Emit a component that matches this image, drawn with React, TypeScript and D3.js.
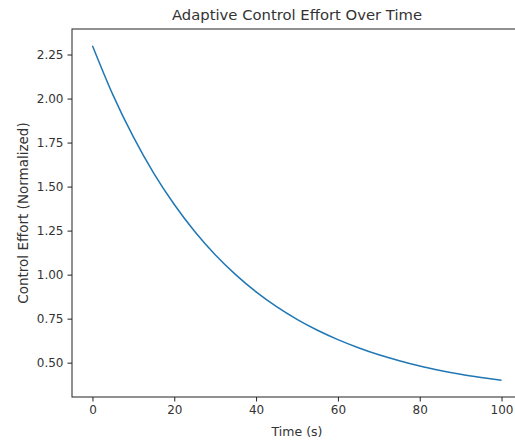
import React, { useEffect, useRef } from 'react';
import * as d3 from 'd3';

// control effort readings, sampled every 5 s
const times = [0, 5, 10, 15, 20, 25, 30, 35, 40, 45, 50, 55, 60, 65, 70, 75, 80, 85, 90, 95, 100];
const effort = [2.3, 2.021, 1.782, 1.575, 1.398, 1.245, 1.113, 1.0, 0.902, 0.818, 0.746, 0.684,
  0.631, 0.585, 0.545, 0.511, 0.481, 0.456, 0.434, 0.416, 0.4];
const xTicks = [0, 20, 40, 60, 80, 100];
const yTicks = [0.5, 0.75, 1.0, 1.25, 1.5, 1.75, 2.0, 2.25];

const W = 515, H = 441;
const left = 72, right = 522, top = 29, bottom = 397;
const font = 'DejaVu Sans, sans-serif';

export default function App() {
  const ref = useRef<SVGSVGElement>(null);

  useEffect(() => {
    document.body.style.margin = '0';
    const svg = d3.select(ref.current);
    svg.selectAll('*').remove();

    const x = d3.scaleLinear().domain([-5, 105]).range([left, right]);
    const y = d3.scaleLinear().domain([0.305, 2.395]).range([bottom, top]);

    const pts = times.map((t, i) => [t, effort[i]] as [number, number]);
    const line = d3.line<[number, number]>()
      .x(d => x(d[0]))
      .y(d => y(d[1]))
      .curve(d3.curveMonotoneX);

    svg.append('path')
      .datum(pts)
      .attr('d', line)
      .attr('fill', 'none')
      .attr('stroke', '#1f77b4')
      .attr('stroke-width', 1.5);

    // spines
    svg.append('rect')
      .attr('x', left).attr('y', top)
      .attr('width', right - left).attr('height', bottom - top)
      .attr('fill', 'none').attr('stroke', '#222').attr('stroke-width', 1);

    const xa = svg.append('g')
      .attr('transform', `translate(0,${bottom})`)
      .call(d3.axisBottom(x).tickValues(xTicks).tickFormat(d3.format('d')).tickSize(4.5).tickPadding(4));
    const ya = svg.append('g')
      .attr('transform', `translate(${left},0)`)
      .call(d3.axisLeft(y).tickValues(yTicks).tickFormat(d3.format('.2f')).tickSize(4.5).tickPadding(4));
    [xa, ya].forEach(a => {
      a.select('.domain').remove();
      a.selectAll('text').attr('font-family', font).attr('font-size', 12).attr('fill', '#333');
      a.selectAll('line').attr('stroke', '#222');
    });

    svg.append('text')
      .attr('x', (left + right) / 2).attr('y', 20)
      .attr('text-anchor', 'middle')
      .attr('font-family', font).attr('font-size', 14.8).attr('fill', '#333')
      .text('Adaptive Control Effort Over Time');

    svg.append('text')
      .attr('x', (left + right) / 2).attr('y', 436)
      .attr('text-anchor', 'middle')
      .attr('font-family', font).attr('font-size', 12.5).attr('fill', '#333')
      .text('Time (s)');

    svg.append('text')
      .attr('transform', `translate(28,${(top + bottom) / 2}) rotate(-90)`)
      .attr('text-anchor', 'middle')
      .attr('font-family', font).attr('font-size', 13.5).attr('fill', '#333')
      .text('Control Effort (Normalized)');
  }, []);

  return <svg ref={ref} width={W} height={H} style={{ display: 'block', background: '#fff' }} />;
}
